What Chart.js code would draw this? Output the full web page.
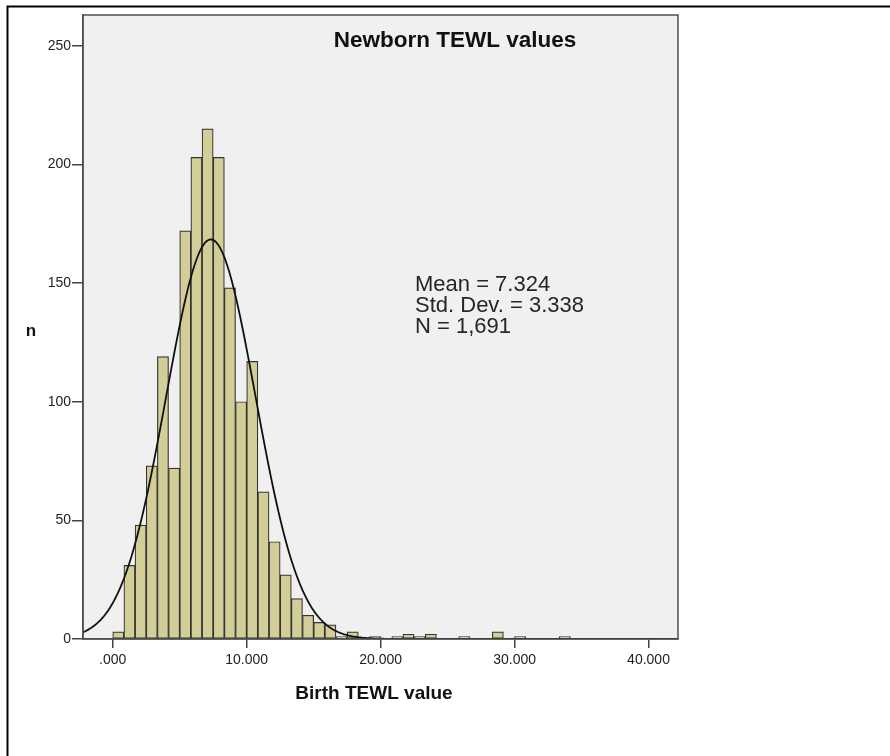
<!DOCTYPE html>
<html>
<head>
<meta charset="utf-8">
<title>Newborn TEWL values</title>
<script src="https://cdn.jsdelivr.net/npm/chart.js@4.4.1/dist/chart.umd.min.js"></script>
<style>
  html, body { margin: 0; padding: 0; background: #fff; }
  #wrap { position: relative; width: 890px; height: 756px; }
</style>
</head>
<body>
<div id="wrap"><canvas id="histChart" width="890" height="756"></canvas></div>
<script>
// histogram bins (first bin starts at 0, about 0.833 wide)
const binStart = 0;
const binWidth = 0.8333;
const binCounts = [3, 31, 48, 73, 119, 72, 172, 203, 215, 203, 148, 100, 117, 62, 41, 27, 17, 10, 7, 6,
                   1, 3, 0, 1, 0, 1, 2, 1, 2, 0, 0, 1, 0, 0, 3, 0, 1, 0, 0, 0, 1];

// summary stats shown on the chart (also used for the normal curve)
const statMean = 7.324;
const statSD = 3.338;
const statN = 1691;

const xTicks = [0, 10, 20, 30, 40];
const xTickLabels = ['.000', '10.000', '20.000', '30.000', '40.000'];
const yTicks = [0, 50, 100, 150, 200, 250];

const xMin = -2.22;
const xMax = 42.2;
const yMax = 263;

const fontName = '"Liberation Sans", Arial, sans-serif';

// bars at the centre of each bin
const barPoints = binCounts.map((c, i) => ({ x: binStart + (i + 0.5) * binWidth, y: c }));

// fitted normal curve, scaled to counts per bin
const curvePoints = [];
const peak = statN * binWidth / (statSD * Math.sqrt(2 * Math.PI));
for (let x = xMin; x <= xMax + 0.001; x += 0.1) {
    const z = (x - statMean) / statSD;
    curvePoints.push({ x: x, y: peak * Math.exp(-0.5 * z * z) });
}

const plotDecor = {
    id: 'plotDecor',
    beforeDraw(chart) {
        const c = chart.ctx;
        const a = chart.chartArea;
        c.save();
        c.fillStyle = '#ffffff';
        c.fillRect(0, 0, chart.width, chart.height);
        c.fillStyle = '#f0f0f0';
        c.fillRect(a.left, a.top, a.right - a.left, a.bottom - a.top);
        c.restore();
    },
    afterDraw(chart) {
        const c = chart.ctx;
        const a = chart.chartArea;
        c.save();
        // frame around the plot
        c.strokeStyle = '#505050';
        c.lineWidth = 1.5;
        c.strokeRect(a.left, a.top, a.right - a.left, a.bottom - a.top);

        // outer frame (only left and top edges are visible)
        c.strokeStyle = '#000';
        c.lineWidth = 2;
        c.beginPath();
        c.moveTo(7.5, chart.height);
        c.lineTo(7.5, 6.5);
        c.lineTo(chart.width, 6.5);
        c.stroke();

        c.fillStyle = '#111';
        c.textBaseline = 'alphabetic';

        // title
        c.font = 'bold 22.5px ' + fontName;
        c.textAlign = 'center';
        c.fillText('Newborn TEWL values', 455, 47);

        // stats box
        c.font = '22px ' + fontName;
        c.textAlign = 'left';
        c.fillStyle = '#262626';
        c.fillText('Mean = ' + statMean.toFixed(3), 415, 291);
        c.fillText('Std. Dev. = ' + statSD.toFixed(3), 415, 312);
        c.fillText('N = ' + statN.toLocaleString('en-US'), 415, 333);

        // y axis label, not rotated
        c.fillStyle = '#111';
        c.font = 'bold 17px ' + fontName;
        c.textAlign = 'center';
        c.fillText('n', 31, 336);

        // x axis label
        c.font = 'bold 19px ' + fontName;
        c.fillText('Birth TEWL value', 374, 699);
        c.restore();
    }
};

const ctx = document.getElementById('histChart').getContext('2d');
new Chart(ctx, {
    type: 'bar',
    data: {
        datasets: [
            {
                type: 'line',
                data: curvePoints,
                borderColor: '#111',
                borderWidth: 1.8,
                pointRadius: 0,
                fill: false,
                tension: 0,
                order: 0
            },
            {
                type: 'bar',
                data: barPoints,
                backgroundColor: '#d3ce98',
                borderColor: '#333333',
                borderWidth: 1.2,
                borderSkipped: false,
                barPercentage: 1,
                categoryPercentage: 1,
                order: 1
            }
        ]
    },
    options: {
        responsive: false,
        animation: false,
        layout: { padding: { left: 0, top: 15, right: 212, bottom: 0 } },
        plugins: {
            legend: { display: false },
            tooltip: { enabled: false },
            title: { display: false }
        },
        scales: {
            x: {
                type: 'linear',
                min: xMin,
                max: xMax,
                offset: false,
                grid: { display: true, drawOnChartArea: false, drawTicks: true, tickLength: 9, color: '#444', lineWidth: 1.5, offset: false },
                border: { display: true, color: '#444', width: 1.5 },
                ticks: {
                    padding: 4,
                    color: '#222',
                    font: { family: fontName, size: 14 },
                    maxRotation: 0,
                    callback: (v) => xTickLabels[xTicks.indexOf(v)] ?? ''
                },
                afterBuildTicks: (s) => { s.ticks = xTicks.map(v => ({ value: v })); },
                afterFit: (s) => { s.height = 117; }
            },
            y: {
                min: 0,
                max: yMax,
                grid: { display: true, drawOnChartArea: false, drawTicks: true, tickLength: 11, color: '#444', lineWidth: 1.5 },
                border: { display: true, color: '#444', width: 1.5 },
                ticks: {
                    padding: 1,
                    color: '#222',
                    font: { family: fontName, size: 14 }
                },
                afterBuildTicks: (s) => { s.ticks = yTicks.map(v => ({ value: v })); },
                afterFit: (s) => { s.width = 83; }
            }
        }
    },
    plugins: [plotDecor]
});
</script>
</body>
</html>
